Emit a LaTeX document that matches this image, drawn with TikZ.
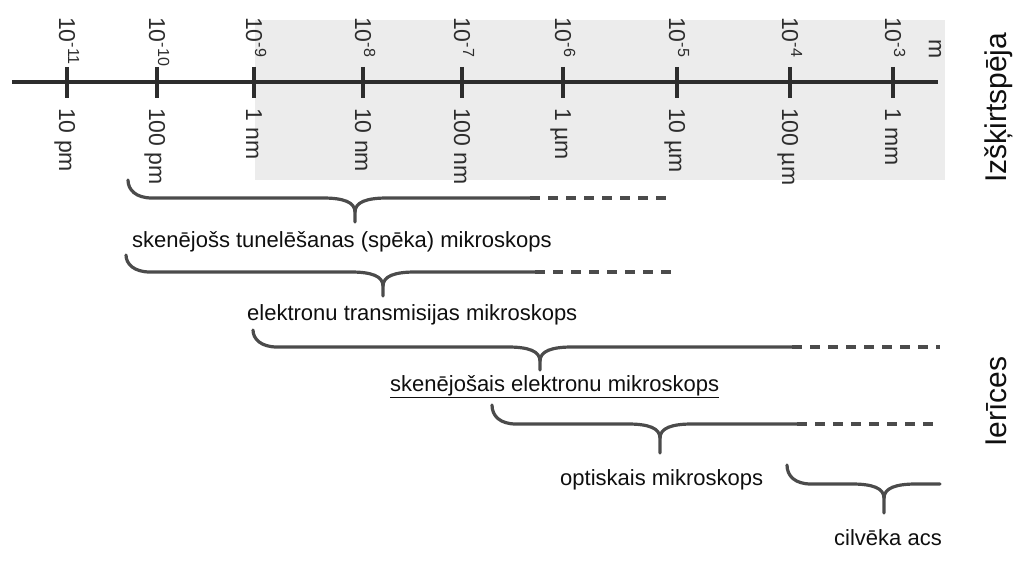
\documentclass[tikz,border=0pt]{standalone}
\usepackage{fontspec}
\setmainfont{Liberation Sans}
\definecolor{axc}{RGB}{45,45,45}
\definecolor{brc}{RGB}{75,75,75}
\definecolor{bgc}{RGB}{236,236,236}
\definecolor{txc}{RGB}{15,15,15}
\newcommand\devbrace[8]{%
  \coordinate (#8-a) at (#1,#2);
  \coordinate (#8-t) at (#4,#5);
  \coordinate (#8-s) at (#6,#3);
  \coordinate (#8-d) at (#7,#3);
  \draw[brline] (#8-a) .. controls (#1,#3-8) and (#1+8,#3) .. (#1+24,#3) -- (#4-32,#3)
     .. controls (#4-12,#3) and (#4,#3+4) .. (#4,#3+14) -- (#8-t);
  \draw[brline] (#4,#3+14) .. controls (#4,#3+4) and (#4+12,#3) .. (#4+32,#3) -- (#8-s);
}
\begin{document}
\begin{tikzpicture}[x=1pt,y=-1pt,
  axline/.style={line width=3.4pt, draw=axc},
  tick/.style={line width=3.4pt, draw=axc},
  uplab/.style={rotate=-90, anchor=base west, inner sep=0pt, text=axc, font=\fontsize{23}{27}\selectfont},
  dnlab/.style={rotate=-90, anchor=base west, inner sep=0pt, text=axc, font=\fontsize{23}{27}\selectfont},
  sidelab/.style={rotate=90, anchor=base west, inner sep=0pt, text=txc, font=\fontsize{30}{34}\selectfont},
  devlab/.style={anchor=base west, inner sep=0pt, text=txc, font=\fontsize{22}{26}\selectfont},
  brline/.style={line width=3.2pt, draw=brc, line cap=round},
  brdash/.style={line width=3.4pt, draw=brc, dash pattern=on 10pt off 8pt}
]
\useasboundingbox (0,0) rectangle (1014,561);
\fill[bgc] (255,20) rectangle (945,180);
% axis
\coordinate (axL) at (12,82);
\coordinate (axR) at (938,82);
\draw[axline] (axL) -- (axR);
\foreach \x/\e/\l [count=\i] in {67/-11/10 pm, 157/-10/100 pm, 254/-9/1 nm, 363/-8/10 nm, 462/-7/100 nm, 563/-6/1 µm, 677/-5/10 µm, 790/-4/100 µm, 893/-3/1 mm}{
  \draw[tick] (\x,67) -- (\x,98);
  \node[uplab] (e\i) at (\x-8,17) {10\textsuperscript{\e}};
  \node[dnlab] (l\i) at (\x-8,108) {\l};
}
\node[rotate=-90, inner sep=0pt, text=axc, font=\fontsize{23}{27}\selectfont] (unit) at (935,49) {m};
% side labels
\node[sidelab] (res) at (1006,183) {Izšķirtspēja};
\node[sidelab] (dev) at (1006,447) {Ierīces};
% braces
\devbrace{128}{180}{198}{355}{222}{530}{670}{b1}
\draw[brdash] (b1-s) -- (b1-d);
\node[devlab] (d1) at (132,248) {skenējošs tunelēšanas (spēka) mikroskops};
\devbrace{126}{255}{272}{383}{296}{535}{672}{b2}
\draw[brdash] (b2-s) -- (b2-d);
\node[devlab] (d2) at (247,320) {elektronu transmisijas mikroskops};
\devbrace{253}{330}{347}{540}{370}{792}{940}{b3}
\draw[brdash] (b3-s) -- (b3-d);
\node[devlab] (d3) at (390,391) {\underline{skenējošais elektronu mikroskops}};
\devbrace{492}{405}{424}{660}{453}{797}{937}{b4}
\draw[brdash] (b4-s) -- (b4-d);
\node[devlab] (d4) at (560,485) {optiskais mikroskops};
\devbrace{787}{465}{484}{884}{513}{940}{940}{b5}
\node[devlab] (d5) at (834,545) {cilvēka acs};
\end{tikzpicture}
\end{document}
